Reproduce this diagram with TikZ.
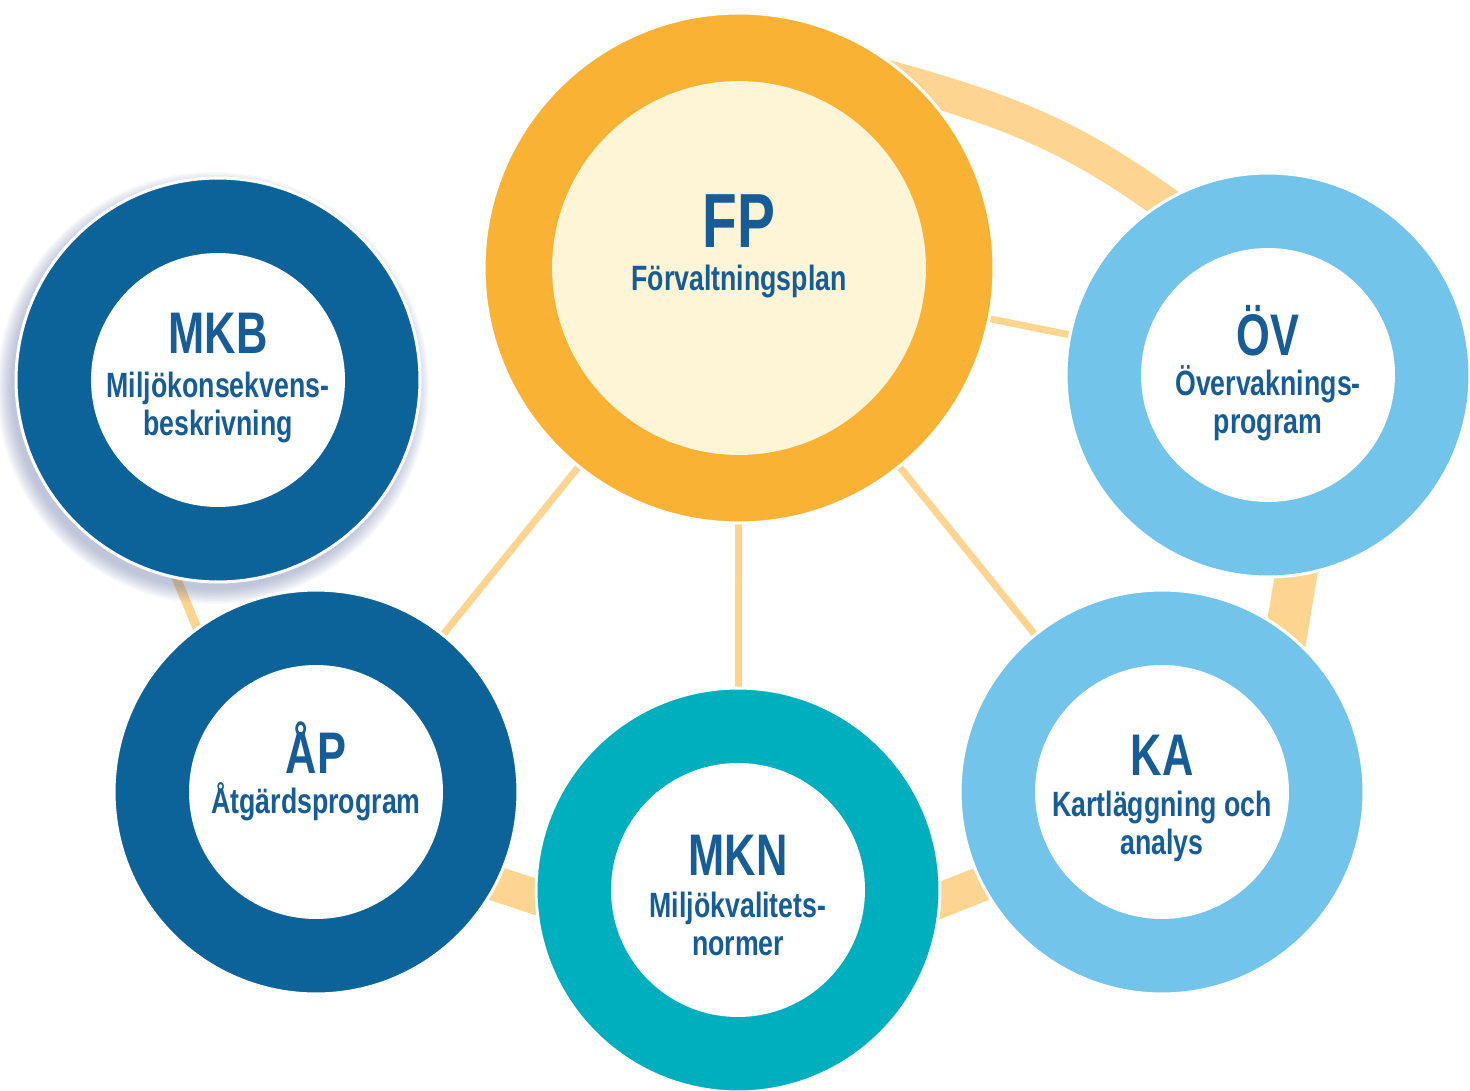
\documentclass[tikz,border=0pt]{standalone}
\usepackage{fontspec}
\usepackage{tikz}
\usetikzlibrary{positioning,calc,backgrounds}
\setmainfont{Liberation Sans}
\newfontfamily\abbrfont{Liberation Sans}[FakeStretch=0.74]
\newfontfamily\namefont{Liberation Sans}[FakeStretch=0.76]
\definecolor{fpring}{RGB}{249,178,52}
\definecolor{fpcore}{RGB}{254,244,214}
\definecolor{darkring}{RGB}{12,99,153}
\definecolor{lightring}{RGB}{114,196,234}
\definecolor{tealring}{RGB}{0,175,190}
\definecolor{linkcolor}{RGB}{253,213,145}
\definecolor{textblue}{RGB}{22,92,150}
\definecolor{shadowblue}{RGB}{90,105,160}

\begin{document}
\begin{tikzpicture}[x=0.02cm, y=-0.02cm,
    ring/.style={circle, draw=white, line width=0.06cm, minimum size=8.08cm, inner sep=0pt, outer sep=0pt},
    core/.style={circle, fill=white, minimum size=5.08cm, inner sep=0pt},
    abbr/.style={anchor=base, text=textblue, font=\abbrfont\bfseries\fontsize{33.4}{36}\selectfont},
    fullname/.style={anchor=base, align=center, text=textblue, font=\namefont\bfseries\fontsize{20}{21.3}\selectfont},
    band/.style={draw=linkcolor, line width=#1, shorten <=-0.6cm, shorten >=-0.6cm},
    link/.style={draw=linkcolor, line width=0.14cm},
]
    \useasboundingbox (0,0) rectangle (1470,1091);

    % Rings
    \node[ring, fill=fpring, minimum size=10.2cm] (fp) at (739,268) {};
    \node[ring, fill=darkring] (mkb) at (218,380) {};
    \node[ring, fill=lightring] (ov) at (1268,375) {};
    \node[ring, fill=darkring] (ap) at (316,792) {};
    \node[ring, fill=tealring] (mkn) at (738,890) {};
    \node[ring, fill=lightring] (ka) at (1162,792) {};

    % Cores
    \node[core, fill=fpcore, minimum size=7.48cm] (fp-core) at (fp) {};
    \node[core] (mkb-core) at (mkb) {};
    \node[core] (ov-core) at (ov) {};
    \node[core] (ap-core) at (ap) {};
    \node[core] (mkn-core) at (mkn) {};
    \node[core] (ka-core) at (ka) {};

    % Texts (base = last line)
    \node[abbr, font=\abbrfont\bfseries\fontsize{43.7}{46}\selectfont] (fp-abbr) at (739,248) {FP};
    \node[fullname] (fp-name) at (739,290) {Förvaltningsplan};
    \node[abbr] (mkb-abbr) at (218,353) {MKB};
    \node[fullname] (mkb-name) at (218,435) {Miljökonsekvens-\\beskrivning};
    \node[abbr] (ov-abbr) at (1268,355) {ÖV};
    \node[fullname] (ov-name) at (1268,433) {Övervaknings-\\program};
    \node[abbr] (ap-abbr) at (316,773) {ÅP};
    \node[fullname] (ap-name) at (316,813) {Åtgärdsprogram};
    \node[abbr] (mkn-abbr) at (738,875) {MKN};
    \node[fullname] (mkn-name) at (738,955) {Miljökvalitets-\\normer};
    \node[abbr] (ka-abbr) at (1162,775) {KA};
    \node[fullname] (ka-name) at (1162,854) {Kartläggning och\\analys};

    % Connectors
    \begin{scope}[on background layer]
        \fill[white] (0,0) rectangle (1470,1091);
        \draw[link] (fp) -- (ov);
        \draw[link] (fp) -- (ka);
        \draw[link] (fp) -- (mkn);
        \draw[link] (fp) -- (ap);
        \draw[band=0.68cm, shorten <=-1.2cm, shorten >=-0.8cm] (fp.46) to[out=-15, in=143] (ov.121);
        \draw[band=0.84cm] (ov.278) -- (ka.52);
        \draw[band=0.7cm] (ka.207) -- (mkn.357);
        \draw[band=0.7cm] (mkn.182) -- (ap.333);
        \draw[band=0.18cm] (ap.126) -- (mkb.258);
        % shadow of MKB
        \foreach \k in {1,...,10}
            \fill[shadowblue, opacity=0.045] ($(mkb)+(-5,8)$) circle[radius=200+1.6*\k];
    \end{scope}
\end{tikzpicture}
\end{document}
